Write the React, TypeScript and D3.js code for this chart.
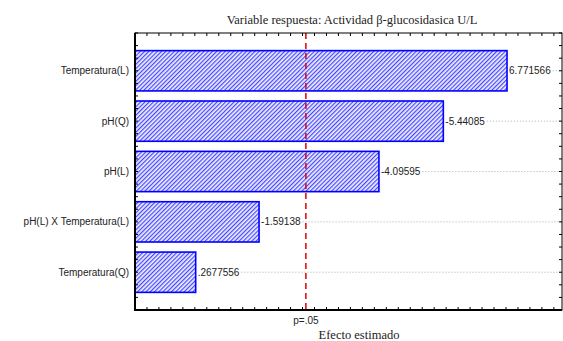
import React, { useRef, useEffect } from "react";
import * as d3 from "d3";

const effects = [
    "Temperatura(L)",
    "pH(Q)",
    "pH(L)",
    "pH(L) X Temperatura(L)",
    "Temperatura(Q)",
];
const estimates = [6.771566, -5.44085, -4.09595, -1.59138, 0.2677556];
const valueLabels = ["6.771566", "-5.44085", "-4.09595", "-1.59138", ".2677556"];
const pLimit = 2.57;
const pLabel = "p=.05";

const ParetoChart = () => {
    const ref = useRef<SVGSVGElement | null>(null);

    useEffect(() => {
        const width = 563;
        const height = 341;
        const left = 135;
        const right = 562;
        const top = 33;
        const bottom = 310;

        const svg = d3.select(ref.current);
        svg.selectAll("*").remove();

        const x = d3.scaleLinear().domain([-1, 7.92]).range([left, right]);
        const y = d3.scaleLinear().domain([0.25, 5.75]).range([top, bottom]);
        const barH = y(1.8) - y(1);

        // hatch pattern
        const pat = svg
            .append("defs")
            .append("pattern")
            .attr("id", "hatch")
            .attr("patternUnits", "userSpaceOnUse")
            .attr("width", 3)
            .attr("height", 3)
            .attr("patternTransform", "rotate(45)");
        pat.append("rect").attr("width", 3).attr("height", 3).attr("fill", "#eeeeff");
        pat.append("rect").attr("width", 1.2).attr("height", 3).attr("fill", "#4646ff");

        svg.append("rect")
            .attr("width", width)
            .attr("height", height)
            .attr("fill", "#fff");

        // title
        svg.append("text")
            .attr("x", 352)
            .attr("y", 24)
            .attr("text-anchor", "middle")
            .attr("font-family", "Liberation Serif, Times New Roman, serif")
            .attr("font-size", 12.5)
            .attr("fill", "#222")
            .text("Variable respuesta: Actividad β-glucosidasica U/L");

        // bars
        svg.selectAll("rect.bar")
            .data(estimates)
            .join("rect")
            .attr("class", "bar")
            .attr("x", left)
            .attr("y", (d, i) => y(i + 1) - barH / 2)
            .attr("width", (d) => x(Math.abs(d)) - left)
            .attr("height", barH)
            .attr("fill", "url(#hatch)")
            .attr("stroke", "#0000ff")
            .attr("stroke-width", 1.6);

        // value labels + dotted leaders
        const labels = svg
            .selectAll("text.val")
            .data(estimates)
            .join("text")
            .attr("class", "val")
            .attr("x", (d) => x(Math.abs(d)) + 2)
            .attr("y", (d, i) => y(i + 1) + 3.5)
            .attr("font-family", "Liberation Sans, Arial, sans-serif")
            .attr("font-size", 10)
            .attr("fill", "#222")
            .text((d, i) => valueLabels[i]);

        labels.each(function (d, i) {
            const t = this as SVGTextElement;
            const end = x(Math.abs(d)) + 2 + t.getComputedTextLength() + 2;
            svg.append("line")
                .attr("x1", end)
                .attr("x2", right)
                .attr("y1", y(i + 1))
                .attr("y2", y(i + 1))
                .attr("stroke", "#999")
                .attr("stroke-width", 0.8)
                .attr("stroke-dasharray", "1,2");
        });

        // category labels
        svg.selectAll("text.cat")
            .data(effects)
            .join("text")
            .attr("class", "cat")
            .attr("x", left - 6)
            .attr("y", (d, i) => y(i + 1) + 3.5)
            .attr("text-anchor", "end")
            .attr("font-family", "Liberation Sans, Arial, sans-serif")
            .attr("font-size", 10)
            .attr("fill", "#222")
            .text((d) => d);

        // p=.05 line
        svg.append("line")
            .attr("x1", x(pLimit))
            .attr("x2", x(pLimit))
            .attr("y1", top)
            .attr("y2", bottom)
            .attr("stroke", "#e00000")
            .attr("stroke-width", 1.5)
            .attr("stroke-dasharray", "6,4");

        svg.append("text")
            .attr("x", x(pLimit))
            .attr("y", 324)
            .attr("text-anchor", "middle")
            .attr("font-family", "Liberation Sans, Arial, sans-serif")
            .attr("font-size", 10)
            .attr("fill", "#222")
            .text(pLabel);

        // ticks
        const xt = d3.range(-1, 7.92, 0.25);
        const yt = d3.range(0.25, 5.76, 0.25);
        const tk = svg.append("g").attr("stroke", "#000").attr("stroke-width", 1);
        xt.forEach((v) => {
            tk.append("line").attr("x1", x(v)).attr("x2", x(v)).attr("y1", bottom).attr("y2", bottom - 3);
            tk.append("line").attr("x1", x(v)).attr("x2", x(v)).attr("y1", top).attr("y2", top + 3);
        });
        yt.forEach((v) => {
            tk.append("line").attr("x1", left).attr("x2", left + 3).attr("y1", y(v)).attr("y2", y(v));
            tk.append("line").attr("x1", right).attr("x2", right - 3).attr("y1", y(v)).attr("y2", y(v));
        });

        // frame
        svg.append("rect")
            .attr("x", left)
            .attr("y", top)
            .attr("width", right - left)
            .attr("height", bottom - top)
            .attr("fill", "none")
            .attr("stroke", "#000")
            .attr("stroke-width", 1);
        svg.append("path")
            .attr("d", `M${left},${top}V${bottom}H${right}`)
            .attr("fill", "none")
            .attr("stroke", "#000")
            .attr("stroke-width", 2);

        // x title
        svg.append("text")
            .attr("x", 359)
            .attr("y", 339)
            .attr("text-anchor", "middle")
            .attr("font-family", "Liberation Serif, Times New Roman, serif")
            .attr("font-size", 12.5)
            .attr("fill", "#222")
            .text("Efecto estimado");
    }, []);

    return (
        <svg
            ref={ref}
            width="563"
            height="341"
            viewBox="0 0 563 341"
            style={{ position: "absolute", left: 0, top: 0 }}
        />
    );
};

export default function App() {
    return <ParetoChart />;
}
